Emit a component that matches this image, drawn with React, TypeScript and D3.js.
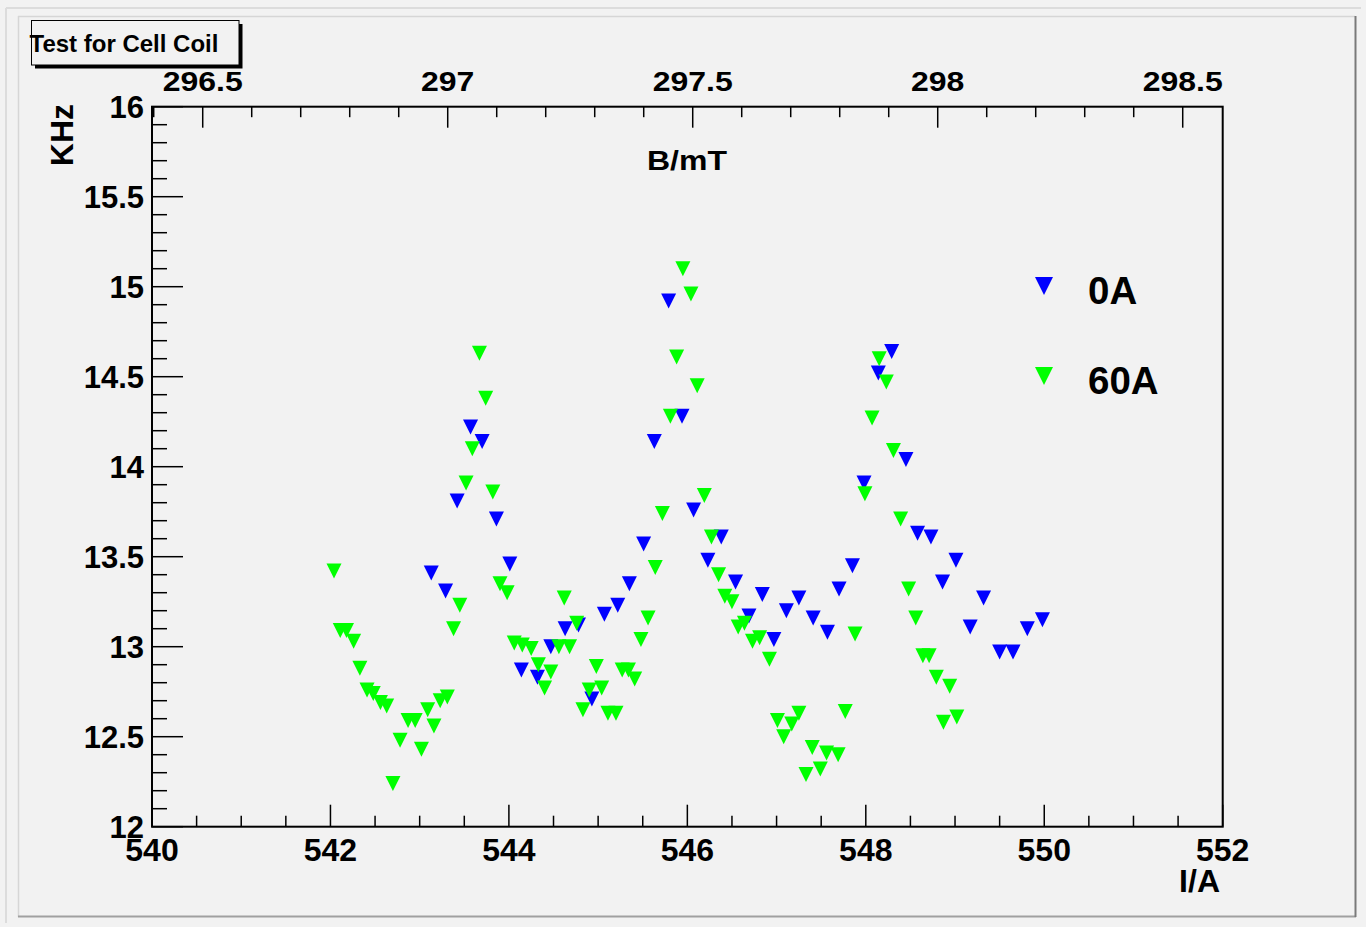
import React from "react";
import * as d3 from "d3";

const blueI = [543.13, 543.29, 543.42, 543.57, 543.70, 543.86, 544.01, 544.14, 544.32, 544.47, 544.63, 544.78, 544.93, 545.07, 545.22, 545.35, 545.51, 545.63, 545.79, 545.94, 546.07, 546.23, 546.38, 546.54, 546.69, 546.84, 546.97, 547.11, 547.25, 547.41, 547.57, 547.70, 547.85, 547.98, 548.14, 548.29, 548.45, 548.58, 548.73, 548.86, 549.01, 549.17, 549.32, 549.50, 549.65, 549.81, 549.98];
const blueF = [13.41, 13.31, 13.81, 14.22, 14.14, 13.71, 13.46, 12.87, 12.83, 13.00, 13.10, 13.12, 12.71, 13.18, 13.23, 13.35, 13.57, 14.14, 14.92, 14.28, 13.76, 13.48, 13.61, 13.36, 13.17, 13.29, 13.04, 13.20, 13.27, 13.16, 13.08, 13.32, 13.45, 13.91, 14.52, 14.64, 14.04, 13.63, 13.61, 13.36, 13.48, 13.11, 13.27, 12.97, 12.97, 13.10, 13.15];

const greenI = [542.04, 542.11, 542.18, 542.26, 542.33, 542.41, 542.48, 542.56, 542.63, 542.70, 542.78, 542.87, 542.95, 543.02, 543.09, 543.16, 543.23, 543.31, 543.38, 543.45, 543.52, 543.59, 543.67, 543.74, 543.82, 543.90, 543.98, 544.06, 544.15, 544.25, 544.33, 544.40, 544.47, 544.56, 544.62, 544.68, 544.76, 544.83, 544.90, 544.98, 545.04, 545.11, 545.20, 545.27, 545.34, 545.41, 545.48, 545.56, 545.64, 545.72, 545.81, 545.88, 545.95, 546.04, 546.11, 546.19, 546.27, 546.35, 546.42, 546.50, 546.57, 546.64, 546.73, 546.81, 546.92, 547.01, 547.08, 547.17, 547.25, 547.33, 547.40, 547.49, 547.56, 547.69, 547.77, 547.88, 547.99, 548.07, 548.15, 548.23, 548.31, 548.39, 548.48, 548.56, 548.64, 548.71, 548.79, 548.87, 548.94, 549.02];
const greenF = [13.42, 13.09, 13.09, 13.03, 12.88, 12.76, 12.74, 12.69, 12.67, 12.24, 12.48, 12.59, 12.59, 12.43, 12.65, 12.56, 12.70, 12.72, 13.10, 13.23, 13.91, 14.10, 14.63, 14.38, 13.86, 13.35, 13.30, 13.02, 13.01, 12.99, 12.90, 12.77, 12.86, 13.00, 13.27, 13.00, 13.13, 12.65, 12.76, 12.89, 12.77, 12.63, 12.63, 12.87, 12.87, 12.82, 13.04, 13.16, 13.44, 13.74, 14.28, 14.61, 15.10, 14.96, 14.45, 13.84, 13.61, 13.40, 13.28, 13.25, 13.11, 13.13, 13.03, 13.05, 12.93, 12.59, 12.50, 12.57, 12.63, 12.29, 12.44, 12.32, 12.41, 12.40, 12.64, 13.07, 13.85, 14.27, 14.60, 14.47, 14.09, 13.71, 13.32, 13.16, 12.95, 12.95, 12.83, 12.58, 12.78, 12.61];

const xTicksMajor = [540, 542, 544, 546, 548, 550, 552];
const yTicksMajor = [12, 12.5, 13, 13.5, 14, 14.5, 15, 15.5, 16];
const bTicksMajor = [296.5, 297, 297.5, 298, 298.5];
const seriesNames = ["0A", "60A"];
const seriesColors = ["#0000ff", "#00ff00"];
const titleText = "Test for Cell Coil";

const W = 1366;
const H = 927;
const X0 = 152, X1 = 1222.7, Y0 = 106.7, Y1 = 826.7;
const FONT = "'Liberation Sans', Arial, Helvetica, sans-serif";

function tri(cx: number, cy: number, s: number) {
  const h = s / 2;
  return `M${cx - h},${cy - h}L${cx + h},${cy - h}L${cx},${cy + h}Z`;
}

export default function App() {
  const x = d3.scaleLinear().domain([540, 552]).range([X0, X1]);
  const y = d3.scaleLinear().domain([12, 16]).range([Y1, Y0]);
  const xb = d3.scaleLinear().domain([296.3965, 298.5816]).range([X0, X1]);

  const xMinor = d3.range(540, 552.001, 0.5);
  const yMinor = d3.range(12, 16.001, 0.1);
  const bMinor = d3.range(296.4, 298.5816, 0.1);

  const fmt = (v: number) => String(v);

  return (
    <div style={{ position: "absolute", left: 0, top: 0 }}>
      <svg width={W} height={H} style={{ display: "block" }}>
        <rect x={0} y={0} width={W} height={H} fill="#f2f2f2" />
        <line x1={6} y1={8} x2={1361} y2={8} stroke="#dcdcdc" strokeWidth={2} />
        <line x1={6} y1={8} x2={6} y2={923} stroke="#dcdcdc" strokeWidth={2} />
        <line x1={18} y1={16.5} x2={1355} y2={16.5} stroke="#d6d6d6" strokeWidth={1.5} />
        <line x1={18.5} y1={16} x2={18.5} y2={917} stroke="#d6d6d6" strokeWidth={1.5} />
        <line x1={18} y1={916.5} x2={1356} y2={916.5} stroke="#a0a0a0" strokeWidth={2} />
        <line x1={1355.5} y1={16} x2={1355.5} y2={917} stroke="#7a7a7a" strokeWidth={2} />

        <rect x={X0} y={Y0} width={X1 - X0} height={Y1 - Y0} fill="none" stroke="#000" strokeWidth={2} />

        {xMinor.map((v, i) => {
          const major = xTicksMajor.some((m) => Math.abs(m - v) < 1e-6);
          return <line key={"xm" + i} x1={x(v)} x2={x(v)} y1={Y1} y2={Y1 - (major ? 22 : 11)} stroke="#000" strokeWidth={1.5} />;
        })}
        {xTicksMajor.map((v) => (
          <text key={"xl" + v} x={x(v)} y={861} textAnchor="middle" fontFamily={FONT} fontWeight="bold" fontSize={32} fill="#000">{fmt(v)}</text>
        ))}
        <text x={1220} y={891.5} textAnchor="end" fontFamily={FONT} fontWeight="bold" fontSize={32} fill="#000">I/A</text>

        {yMinor.map((v, i) => {
          const major = yTicksMajor.some((m) => Math.abs(m - v) < 1e-6);
          return <line key={"ym" + i} x1={X0} x2={X0 + (major ? 31 : 15)} y1={y(v)} y2={y(v)} stroke="#000" strokeWidth={1.5} />;
        })}
        {yTicksMajor.map((v) => (
          <text key={"yl" + v} x={144} y={y(v) + 11.5} textAnchor="end" fontFamily={FONT} fontWeight="bold" fontSize={31} fill="#000">{fmt(v)}</text>
        ))}
        <text transform={`translate(73,104) rotate(-90)`} textAnchor="end" fontFamily={FONT} fontWeight="bold" fontSize={32} fill="#000">KHz</text>

        {bMinor.map((v, i) => {
          const major = bTicksMajor.some((m) => Math.abs(m - v) < 1e-6);
          return <line key={"bm" + i} x1={xb(v)} x2={xb(v)} y1={Y0} y2={Y0 + (major ? 21 : 10.5)} stroke="#000" strokeWidth={1.5} />;
        })}
        {bTicksMajor.map((v) => (
          <text key={"bl" + v} transform={`translate(${xb(v)},90.5) scale(1,0.88)`} textAnchor="middle" fontFamily={FONT} fontWeight="bold" fontSize={32} fill="#000">{fmt(v)}</text>
        ))}
        <text transform={`translate(687,170) scale(1,0.88)`} textAnchor="middle" fontFamily={FONT} fontWeight="bold" fontSize={32} fill="#000">B/mT</text>

        <g>
          {blueI.map((v, i) => (
            <path key={"b" + i} d={tri(x(v), y(blueF[i]), 15)} fill={seriesColors[0]} />
          ))}
        </g>
        <g>
          {greenI.map((v, i) => (
            <path key={"g" + i} d={tri(x(v), y(greenF[i]), 15)} fill={seriesColors[1]} />
          ))}
        </g>

        {seriesNames.map((n, i) => (
          <g key={n}>
            <path d={tri(1044, 286 + i * 90, 18)} fill={seriesColors[i]} />
            <text x={1088} y={303.5 + i * 90.5} fontFamily={FONT} fontWeight="bold" fontSize={38.5} fill="#000">{n}</text>
          </g>
        ))}

        <rect x={35} y={24} width={207.5} height={44.5} fill="#000" />
        <rect x={31.5} y={20.5} width={207.5} height={44.5} fill="#f2f2f2" stroke="#000" strokeWidth={1} />
        <text x={29.5} y={52.3} fontFamily={FONT} fontWeight="bold" fontSize={24} fill="#000">{titleText}</text>
      </svg>
    </div>
  );
}
